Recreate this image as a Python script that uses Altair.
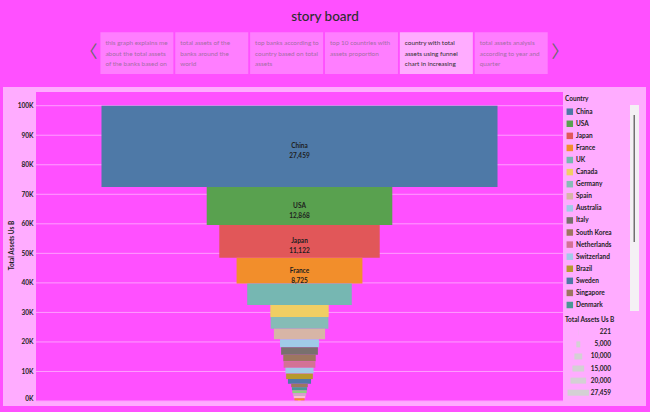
import altair as alt
import pandas as pd

# ---------------- data ----------------
countries = ["China", "USA", "Japan", "France", "UK", "Canada", "Germany", "Spain",
             "Australia", "Italy", "South Korea", "Netherlands", "Switzerland", "Brazil",
             "Sweden", "Singapore", "Denmark", "Norway", "Belgium", "Austria", "India", "Finland"]
assets = [27459, 12868, 11122, 8725, 7250, 4050, 4000, 3550,
          2700, 2550, 2250, 2200, 1950, 1850,
          1600, 1150, 1050, 1000, 900, 800, 700, 221]
country_colors = ["#4E79A7", "#59A14F", "#E15759", "#F28E2B", "#76B7B2", "#F1CE63", "#86BCB6", "#D7B5A6",
                  "#A0CBE8", "#79706E", "#9D7660", "#D37295", "#A0CBE8", "#B6992D",
                  "#4E79A7", "#9D7660", "#499894", "#8CD17D", "#D4A6C8", "#FABFD2", "#F28E2B", "#FFBE7D"]
legend_countries = countries[:17]
size_values = [221, 5000, 10000, 15000, 20000, 27459]
size_labels = ["221", "5,000", "10,000", "15,000", "20,000", "27,459"]
y_ticks = [0, 10000, 20000, 30000, 40000, 50000, 60000, 70000, 80000, 90000, 100000]
stories = [
    "this graph explains me\nabout the total assets\nof the banks based on",
    "total assets of the\nbanks around the\nworld",
    "top banks according to\ncountry based on total\nassets",
    "top 10 countries with\nassets proportion",
    "country with total\nassets using funnel\nchart in increasing",
    "total assets analysis\naccording to year and\nquarter",
]
selected_story = 4

# ---------------- style ----------------
BG = "#FF50FF"
PANEL = "#FFACFF"
BOX = "#FF7EFF"
BOX_SEL = "#FFACFF"
GRID = "#FF9EFF"
FONT = "Lato"
DARK = "#1e1e1e"
FS = 6.5

PL, PT = 36, 92          # plot origin in the page
W, H = 527, 309          # plot size

one = pd.DataFrame({"k": [0]})


def frame_rect(x0, x1, y0, y1, color):
    return alt.Chart(one).mark_rect(color=color).encode(
        x=alt.value(x0 - PL), x2=alt.value(x1 - PL),
        y=alt.value(y0 - PT), y2=alt.value(y1 - PT))


def frame_text(txt, x, y, **kw):
    return alt.Chart(one).mark_text(**kw).encode(
        x=alt.value(x - PL), y=alt.value(y - PT), text=alt.value(txt))


# ---------------- funnel ----------------
df = pd.DataFrame({"country": countries, "assets": assets})
xs = alt.Scale(domain=[-18270, 18270], nice=False, zero=False)
ys = alt.Scale(domain=[0, 104640], nice=False, zero=False)
cscale = alt.Scale(domain=countries, range=country_colors)

yaxis = alt.Axis(title="Total Assets Us B", values=y_ticks,
                 labelExpr="format(datum.value / 1000, 'd') + 'K'",
                 grid=False, ticks=False, domain=False, labelFlush=True,
                 labelFontSize=FS, labelFont=FONT, labelFontWeight="bold", labelColor=DARK,
                 labelPadding=3, titleFontSize=FS, titleFont=FONT, titleFontWeight="bold",
                 titleColor=DARK, titleX=-24.5, titleY=153, titleAngle=-90,
                 titleAlign="center", titleBaseline="middle", zindex=1)

base = (alt.Chart(df)
        .transform_window(cum="sum(assets)", sort=[{"field": "assets", "order": "ascending"}],
                          frame=[None, 0])
        .transform_calculate(lo="datum.cum - datum.assets",
                             left="-datum.assets / 2",
                             right="datum.assets / 2",
                             mid="datum.cum - datum.assets / 2",
                             center="0"))

bars = base.mark_rect().encode(
    x=alt.X("left:Q", scale=xs, axis=None),
    x2="right:Q",
    y=alt.Y("lo:Q", scale=ys, axis=yaxis),
    y2="cum:Q",
    color=alt.Color("country:N", scale=cscale, legend=None),
)

labels = (base.transform_filter("datum.assets >= 8000")
          .transform_calculate(lab="datum.country + '\\n' + format(datum.assets, ',')")
          .mark_text(lineBreak="\n", fontSize=FS, font=FONT, fontWeight="bold", color=DARK,
                     lineHeight=10, baseline="middle")
          .encode(x=alt.X("center:Q", scale=xs, axis=None),
                  y=alt.Y("mid:Q", scale=ys, axis=yaxis),
                  text="lab:N"))

grid = alt.Chart(pd.DataFrame({"v": y_ticks})).mark_rule(color=GRID, strokeWidth=1).encode(
    y=alt.Y("v:Q", scale=ys, axis=yaxis))

main = alt.layer(
    frame_rect(3, 646, 87, 406, PANEL),
    frame_rect(PL, PL + W, PT, PT + H, BG),
    grid,
    bars,
    labels,
    frame_text("story board", 325, 17, fontSize=13.5, font=FONT, fontWeight=500,
               color="#2e2e2e", baseline="middle"),
    frame_text("〈", 89, 53, fontSize=17, font="Noto Sans CJK JP", color="#6a6a6a", baseline="middle"),
    frame_text("〉", 560, 53, fontSize=17, font="Noto Sans CJK JP", color="#6a6a6a", baseline="middle"),
    frame_rect(630, 639, 105, 311, "#F4F0F4"),
    frame_rect(633.5, 635, 115, 242, "#707070"),
    frame_text("Country", 565, 99, fontSize=FS, font=FONT, fontWeight="bold", color=DARK,
               align="left", baseline="middle"),
    frame_text("Total Assets Us B", 565, 320, fontSize=FS, font=FONT, fontWeight="bold", color=DARK,
               align="left", baseline="middle"),
)

# ---------------- story header ----------------
st = pd.DataFrame({"idx": list(range(len(stories))), "story": stories})
hx = alt.Scale(type="band", domain=list(range(len(stories))), range=[64.4, 511.7],
               paddingInner=0.025, paddingOuter=0)
sel = f"datum.idx == {selected_story}"
boxes = alt.Chart(st).mark_rect().encode(
    x=alt.X("idx:O", scale=hx, axis=None),
    y=alt.value(32.3 - PT), y2=alt.value(74 - PT),
    color=alt.condition(sel, alt.value(BOX_SEL), alt.value(BOX)))
box_text = alt.Chart(st).mark_text(align="left", baseline="middle", lineBreak="\n", fontSize=6.4,
                                   font=FONT, lineHeight=10.5, dx=5).encode(
    x=alt.X("idx:O", scale=hx, axis=None, bandPosition=0),
    y=alt.value(43.3 - PT),
    text="story:N",
    color=alt.condition(sel, alt.value("#2e2e2e"), alt.value("#a46ea4")))
header = alt.layer(boxes, box_text)

# ---------------- country legend ----------------
lg = pd.DataFrame({"country": legend_countries})
ly = alt.Scale(type="point", domain=legend_countries, range=[111.7 - PT, 305 - PT], padding=0)
leg_sq = alt.Chart(lg).mark_square(size=42, opacity=1).encode(
    x=alt.value(569.8 - PL),
    y=alt.Y("country:N", scale=ly, axis=None),
    color=alt.Color("country:N", scale=cscale, legend=None))
leg_tx = alt.Chart(lg).mark_text(align="left", baseline="middle", fontSize=FS, font=FONT,
                                 fontWeight="bold", color=DARK).encode(
    x=alt.value(576 - PL),
    y=alt.Y("country:N", scale=ly, axis=None),
    text="country:N")
country_legend = alt.layer(leg_sq, leg_tx)

# ---------------- size legend ----------------
sl = pd.DataFrame({"v": size_values, "lab": size_labels})
sx = alt.Scale(domain=[-13729.5, 13729.5], range=[578.3 - 10.75 - PL, 578.3 + 10.75 - PL],
               nice=False, zero=False)
sy = alt.Scale(type="point", domain=size_labels, range=[332.3 - PT, 392.7 - PT], padding=0)
sl_bars = (alt.Chart(sl).transform_calculate(l="-datum.v / 2", r="datum.v / 2")
           .mark_bar(height=6, color="#D4D0D4")
           .encode(x=alt.X("l:Q", scale=sx, axis=None), x2="r:Q",
                   y=alt.Y("lab:N", scale=sy, axis=None)))
sl_tx = alt.Chart(sl).mark_text(align="right", baseline="middle", fontSize=FS, font=FONT,
                                fontWeight="bold", color=DARK).encode(
    x=alt.value(611 - PL),
    y=alt.Y("lab:N", scale=sy, axis=None),
    text="lab:N")
size_legend = alt.layer(sl_bars, sl_tx)

chart = (alt.layer(main, header, country_legend, size_legend)
         .resolve_scale(x="independent", y="independent")
         .properties(width=W, height=H, autosize=alt.AutoSizeParams(type="none"),
                     padding={"left": PL, "top": PT, "right": 650 - PL - W, "bottom": 412 - PT - H})
         .configure(background=BG, font=FONT)
         .configure_view(stroke=None))

chart.save("out.html", embed_options={"renderer": "svg", "actions": False})
